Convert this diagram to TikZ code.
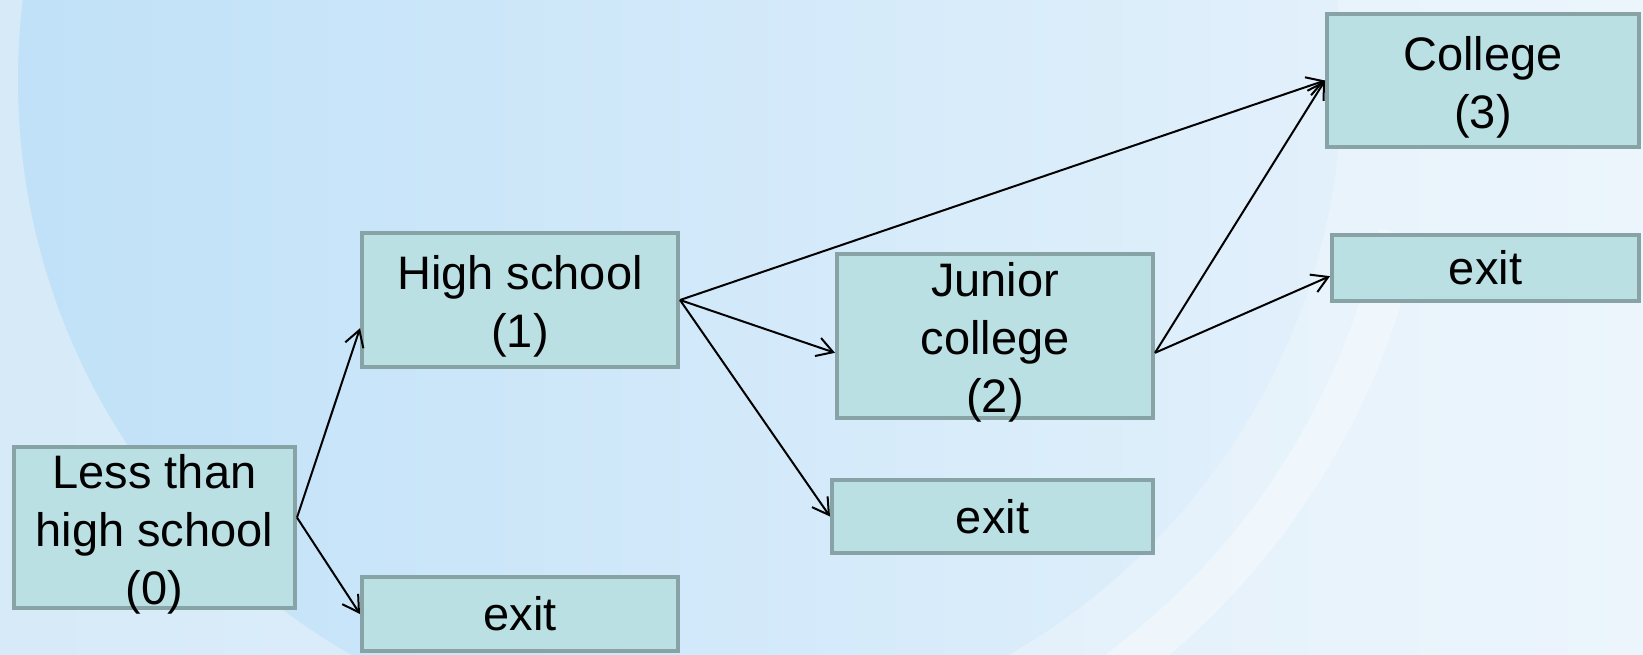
\documentclass[tikz,border=0pt]{standalone}
\usepackage{fontspec}
\setmainfont{Liberation Sans}
\usetikzlibrary{arrows.meta}

\definecolor{boxfill}{RGB}{186,224,228}
\definecolor{boxline}{RGB}{136,163,166}
\definecolor{bgleft}{RGB}{214,234,248}
\definecolor{bgright}{RGB}{236,245,252}
\definecolor{diskleft}{RGB}{192,225,248}
\definecolor{diskright}{RGB}{226,240,251}

\newcommand{\firstline}{\rule{0pt}{47pt}}

\begin{document}
\begin{tikzpicture}[x=1pt, y=-1pt, line width=2pt, >={Straight Barb[length=16pt, width=19pt]}]
	\tikzstyle{every node}=[align=center, font=\fontsize{47}{58}\selectfont]
	\tikzstyle{stage}=[draw=boxline, fill=boxfill, line width=4pt, inner xsep=0pt, inner ysep=-10pt]
	\useasboundingbox (0,0) rectangle (1643,654);

	% background
	\begin{scope}
		\clip (0,0) rectangle (1643,654);
		\shade[left color=bgleft, right color=bgright] (0,0) rectangle (1643,654);
		\shade[left color=diskleft, right color=diskright] (680,80) circle (662pt);
		\draw[white, opacity=0.35, line width=40pt] (680,80) ++(-12:735pt) arc[start angle=-12, end angle=-62, radius=735pt];
	\end{scope}

		\node[stage, minimum width=281pt, minimum height=161pt] (less) at (154.5,527.5) {\firstline Less than\\high school\\(0)};
		\node[stage, minimum width=316pt, minimum height=134pt] (hs) at (520,300) {\firstline High school\\(1)};
		\node[stage, minimum width=316pt, minimum height=74pt] (exitA) at (520,614) {exit};
		\node[stage, minimum width=316pt, minimum height=164pt] (junior) at (995,336) {\firstline Junior\\college\\(2)};
		\node[stage, minimum width=321pt, minimum height=73pt] (exitB) at (992.5,516.5) {exit};
		\node[stage, minimum width=312pt, minimum height=133pt] (college) at (1483,80.5) {\firstline College\\(3)};
		\node[stage, minimum width=307pt, minimum height=66pt] (exitC) at (1485.5,268) {exit};

		\draw[->] (less.4) to (hs.190);
		\draw[->] (less.4) to (exitA.west);
		\draw[->] (hs.east) to (college.west);
		\draw[->] (hs.east) to (junior.186);
		\draw[->] (hs.east) to (exitB.west);
		\draw[->] (junior.354) to (college.west);
		\draw[->] (junior.354) to (exitC.183);
	\end{tikzpicture}
\end{document}
